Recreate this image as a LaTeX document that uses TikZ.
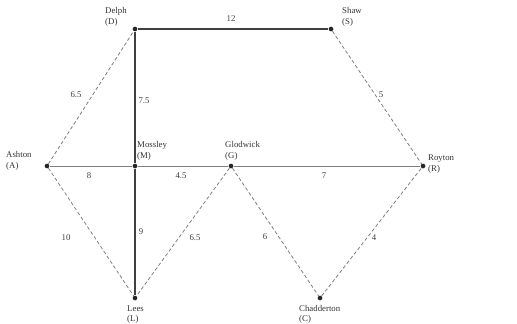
\documentclass[tikz,border=0pt]{standalone}
\usepackage{fontspec}
\setmainfont{Liberation Serif}
\tikzset{
    town/.style={circle, fill=black!85, inner sep=0pt, minimum size=4pt},
    townname/.style={font=\fontsize{7.5}{9}\selectfont, text=black!80, align=left, inner sep=0pt},
    weight/.style={font=\fontsize{7.5}{9}\selectfont, text=black!75, inner sep=1pt},
    mainroad/.style={black!75, line width=1.1pt},
    road/.style={black!50, line width=0.7pt},
    lane/.style={black!50, line width=0.7pt, densely dashed}
}
\begin{document}
\begin{tikzpicture}[x=0.03cm, y=-0.03cm]
    \useasboundingbox (0,0) rectangle (517,323);
    % Towns
    \node[town] (D) at (135,29) {};
    \node[town] (S) at (331,29) {};
    \node[town] (A) at (47,166) {};
    \node[town] (M) at (135,166) {};
    \node[town] (G) at (231,166) {};
    \node[town] (R) at (423,166) {};
    \node[town] (L) at (135,298) {};
    \node[town] (C) at (320,298) {};
    % Names
    \node[townname, anchor=west] (Dname) at (105,17) {Delph\\(D)};
    \node[townname, anchor=west] (Sname) at (342,17) {Shaw\\(S)};
    \node[townname, anchor=west] (Aname) at (6,161) {Ashton\\(A)};
    \node[townname, anchor=west] (Mname) at (137,151) {Mossley\\(M)};
    \node[townname, anchor=west] (Gname) at (225,151) {Glodwick\\(G)};
    \node[townname, anchor=west] (Rname) at (428,164) {Royton\\(R)};
    \node[townname, anchor=north west] (Lname) at (127,305) {Lees\\(L)};
    \node[townname, anchor=north west] (Cname) at (299,305) {Chadderton\\(C)};
    % Roads
    \draw[mainroad] (D) -- (S);
    \draw[mainroad] (D) -- (M);
    \draw[mainroad] (M) -- (L);
    \draw[road] (A) -- (M);
    \draw[road] (M) -- (G);
    \draw[road] (G) -- (R);
    \draw[lane] (A) -- (D);
    \draw[lane] (S) -- (R);
    \draw[lane] (A) -- (L);
    \draw[lane] (G) -- (L);
    \draw[lane] (G) -- (C);
    \draw[lane] (C) -- (R);
    % Distances
    \node[weight] at (231,19) {12};
    \node[weight] at (76,95) {6.5};
    \node[weight] at (144,101) {7.5};
    \node[weight] at (381,95) {5};
    \node[weight] at (89,176) {8};
    \node[weight] at (181,176) {4.5};
    \node[weight] at (324,176) {7};
    \node[weight] at (66,238) {10};
    \node[weight] at (141,232) {9};
    \node[weight] at (195,238) {6.5};
    \node[weight] at (265,237) {6};
    \node[weight] at (374,238) {4};
\end{tikzpicture}
\end{document}
